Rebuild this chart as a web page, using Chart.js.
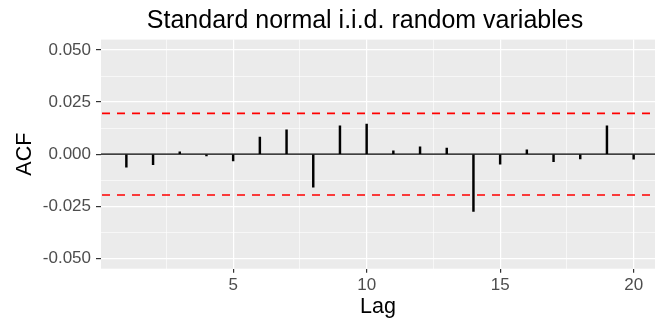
<!DOCTYPE html>
<html>
<head>
<meta charset="utf-8">
<script src="https://cdn.jsdelivr.net/npm/chart.js@4"></script>
<style>
  html, body { margin: 0; padding: 0; background: #fff; }
  #wrap { width: 655px; height: 325px; position: relative; }
</style>
</head>
<body>
<div id="wrap"><canvas id="acf_chart"></canvas></div>
<script>
// data
const lags = [1, 2, 3, 4, 5, 6, 7, 8, 9, 10, 11, 12, 13, 14, 15, 16, 17, 18, 19, 20];
const acfValues = [-0.0062, -0.0051, 0.0011, -0.0008, -0.0032, 0.0082, 0.0117, -0.0158, 0.0136, 0.0144,
  0.0016, 0.0035, 0.0029, -0.0275, -0.0048, 0.0021, -0.0036, -0.0023, 0.0136, -0.0024];
const confLimits = [0.0196, -0.0196];
const zeroLevel = 0;

const xMajorTicks = [5, 10, 15, 20];
const xMinorTicks = [2.5, 7.5, 12.5, 17.5];
const yMajorTicks = [-0.05, -0.025, 0, 0.025, 0.05];
const yMinorTicks = [-0.0375, -0.0125, 0.0125, 0.0375];

const titleText = "Standard normal i.i.d. random variables";
const fontFamily = "'Liberation Sans', Arial, sans-serif";

const isMajor = (list, v) => list.some((m) => Math.abs(m - v) < 1e-9);
const tickIsMajor = (list, c) => !!(c && c.tick && isMajor(list, c.tick.value));

// grey panel behind everything
const panelBg = {
  id: "panelBg",
  beforeDraw(chart) {
    const { ctx, chartArea: a } = chart;
    ctx.save();
    ctx.fillStyle = "#EBEBEB";
    ctx.fillRect(a.left, a.top, a.right - a.left, a.bottom - a.top);
    ctx.restore();
  },
};

// zero line + dashed confidence bounds
const refLines = {
  id: "refLines",
  beforeDatasetsDraw(chart) {
    const { ctx, chartArea: a, scales } = chart;
    const y0 = scales.y.getPixelForValue(zeroLevel);
    ctx.save();
    ctx.strokeStyle = "#000";
    ctx.lineWidth = 1.3;
    ctx.beginPath();
    ctx.moveTo(a.left, y0);
    ctx.lineTo(a.right, y0);
    ctx.stroke();
    ctx.restore();
  },
  afterDatasetsDraw(chart) {
    const { ctx, chartArea: a, scales } = chart;
    ctx.save();
    ctx.strokeStyle = "#FF0000";
    ctx.lineWidth = 1.6;
    ctx.setLineDash([8, 7]);
    confLimits.forEach((c) => {
      const y = scales.y.getPixelForValue(c);
      ctx.beginPath();
      ctx.moveTo(a.left + 1, y);
      ctx.lineTo(a.right, y);
      ctx.stroke();
    });
    ctx.restore();
  },
};

// plot title, centred the way ggplot placed it
const plotTitle = {
  id: "plotTitle",
  afterDraw(chart) {
    const { ctx } = chart;
    ctx.save();
    ctx.font = "25px " + fontFamily;
    ctx.fillStyle = "#000";
    ctx.textAlign = "center";
    ctx.textBaseline = "alphabetic";
    ctx.fillText(titleText, 365, 28);
    ctx.restore();
  },
};

const ctx = document.getElementById("acf_chart").getContext("2d");

new Chart(ctx, {
  type: "bar",
  data: {
    datasets: [
      {
        label: "ACF",
        data: lags.map((l, i) => ({ x: l, y: acfValues[i] })),
        backgroundColor: "#000",
        borderWidth: 0,
        barThickness: 1.8,
      },
    ],
  },
  options: {
    responsive: true,
    maintainAspectRatio: false,
    animation: false,
    devicePixelRatio: 1,
    layout: { padding: { top: 39.6, right: 0, left: 0, bottom: 0 } },
    plugins: {
      legend: { display: false },
      tooltip: { enabled: false },
      title: { display: false },
    },
    scales: {
      x: {
        type: "linear",
        min: 0.05,
        max: 20.8,
        offset: false,
        afterBuildTicks(scale) {
          scale.ticks = xMinorTicks.concat(xMajorTicks).sort((a, b) => a - b).map((v) => ({ value: v }));
        },
        afterFit(scale) {
          scale.height = 56.3;
        },
        border: { display: false },
        grid: {
          offset: false,
          color: "#FFFFFF",
          lineWidth: (c) => (tickIsMajor(xMajorTicks, c) ? 1.2 : 0.6),
          tickColor: (c) => (tickIsMajor(xMajorTicks, c) ? "#333333" : "rgba(0,0,0,0)"),
          tickLength: 4,
          drawOnChartArea: true,
        },
        ticks: {
          autoSkip: false,
          maxRotation: 0,
          padding: 2,
          color: "#4D4D4D",
          font: { family: fontFamily, size: 17 },
          callback: (v) => (isMajor(xMajorTicks, v) ? String(v) : ""),
        },
        title: {
          display: true,
          text: "Lag",
          color: "#000",
          font: { family: fontFamily, size: 21.5 },
          padding: { top: 0, bottom: 5 },
        },
      },
      y: {
        type: "linear",
        min: -0.055,
        max: 0.055,
        afterBuildTicks(scale) {
          scale.ticks = yMinorTicks.concat(yMajorTicks).sort((a, b) => a - b).map((v) => ({ value: v }));
        },
        afterFit(scale) {
          scale.width = 101;
        },
        border: { display: false },
        grid: {
          color: "#FFFFFF",
          lineWidth: (c) => (tickIsMajor(yMajorTicks, c) ? 1.2 : 0.6),
          tickColor: (c) => (tickIsMajor(yMajorTicks, c) ? "#333333" : "rgba(0,0,0,0)"),
          tickLength: 5,
        },
        ticks: {
          autoSkip: false,
          padding: 5,
          color: "#4D4D4D",
          font: { family: fontFamily, size: 17 },
          callback: (v) => (isMajor(yMajorTicks, v) ? v.toFixed(3) : ""),
        },
        title: {
          display: true,
          text: "ACF",
          color: "#000",
          font: { family: fontFamily, size: 21.5 },
          padding: { top: 12.6, bottom: 0 },
        },
      },
    },
  },
  plugins: [panelBg, refLines, plotTitle],
});
</script>
</body>
</html>
